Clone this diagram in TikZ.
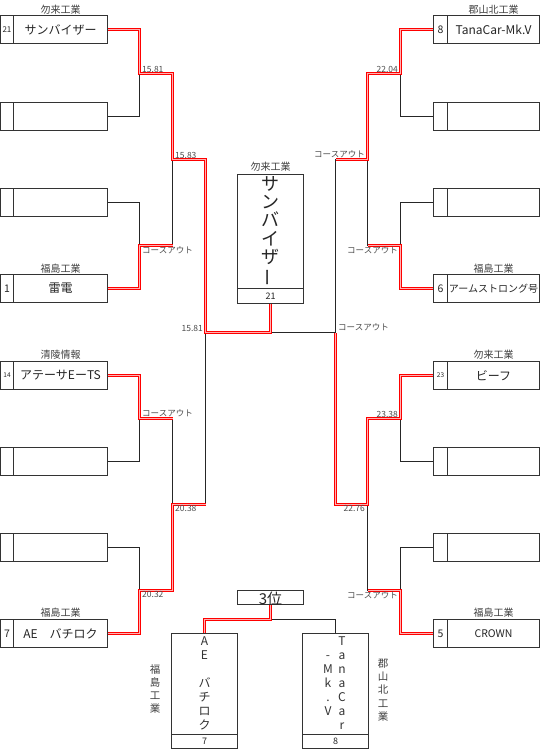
\documentclass[tikz,border=0pt]{standalone}
\usepackage{fontspec}
\setmainfont{Noto Sans CJK JP}
\usepackage{graphicx}
\tikzset{
  box/.style={draw=black!80, line width=1pt, inner sep=0pt, text=black!85},
  namecell/.style={box, minimum width=94pt, minimum height=28pt, font=\fontsize{12}{14}\selectfont},
  rnamecell/.style={box, minimum width=92pt, minimum height=28pt, font=\fontsize{12}{14}\selectfont},
  numcell/.style={box, minimum height=28pt, font=\fontsize{10.5}{12}\selectfont},
  school/.style={font=\fontsize{10}{12}\selectfont, text=black!75, inner sep=0pt},
  score/.style={font=\fontsize{8.5}{9}\selectfont, text=black!70, inner xsep=2.5pt, inner ysep=1pt},
  vtext/.style={align=center, inner sep=0pt, text=black!80},
  bk/.style={draw=black!85, line width=1pt},
  win/.style={draw=red, line width=1.1pt, double=red!30, double distance=0.9pt},
}
\begin{document}
\begin{tikzpicture}[x=1pt,y=-1pt]
\useasboundingbox (0,0) rectangle (540,749);
\fill[white] (0,0) rectangle (540,749);

% ---------- left boxes ----------
\node[namecell] (L1) at (60.5,29.5) {サンバイザー};
\node[numcell, minimum width=13pt] (L1n) at (7,29.5) {\fontsize{8}{9}\selectfont 21};
\node[school] (L1s) at (60.5,10) {勿来工業};
\node[namecell] (L2) at (60.5,116.5) {};
\node[numcell, minimum width=13pt] (L2n) at (7,116.5) {};
\node[namecell] (L3) at (60.5,202.5) {};
\node[numcell, minimum width=13pt] (L3n) at (7,202.5) {};
\node[namecell] (L4) at (60.5,288.5) {雷電};
\node[numcell, minimum width=13pt] (L4n) at (7,288.5) {1};
\node[school] (L4s) at (60.5,268.5) {福島工業};
\node[namecell] (L5) at (60.5,375.5) {アテーサEーTS};
\node[numcell, minimum width=13pt] (L5n) at (7,375.5) {\fontsize{6.5}{7}\selectfont 14};
\node[school] (L5s) at (60.5,355) {清陵情報};
\node[namecell] (L6) at (60.5,461.5) {};
\node[numcell, minimum width=13pt] (L6n) at (7,461.5) {};
\node[namecell] (L7) at (60.5,547.5) {};
\node[numcell, minimum width=13pt] (L7n) at (7,547.5) {};
\node[namecell] (L8) at (60.5,633.5) {AE　バチロク};
\node[numcell, minimum width=13pt] (L8n) at (7,633.5) {7};
\node[school] (L8s) at (60.5,613) {福島工業};

% ---------- right boxes ----------
\node[rnamecell] (R1) at (493.5,29.5) {TanaCar-Mk.V};
\node[numcell, minimum width=14pt] (R1n) at (440.5,29.5) {8};
\node[school] (R1s) at (493.5,10) {郡山北工業};
\node[rnamecell] (R2) at (493.5,116.5) {};
\node[numcell, minimum width=14pt] (R2n) at (440.5,116.5) {};
\node[rnamecell] (R3) at (493.5,202.5) {};
\node[numcell, minimum width=14pt] (R3n) at (440.5,202.5) {};
\node[rnamecell] (R4) at (493.5,288.5) {\fontsize{10}{12}\selectfont アームストロング号};
\node[numcell, minimum width=14pt] (R4n) at (440.5,288.5) {6};
\node[school] (R4s) at (493.5,268.5) {福島工業};
\node[rnamecell] (R5) at (493.5,375.5) {ビーフ};
\node[numcell, minimum width=14pt] (R5n) at (440.5,375.5) {\fontsize{6.5}{7}\selectfont 23};
\node[school] (R5s) at (493.5,355) {勿来工業};
\node[rnamecell] (R6) at (493.5,461.5) {};
\node[numcell, minimum width=14pt] (R6n) at (440.5,461.5) {};
\node[rnamecell] (R7) at (493.5,547.5) {};
\node[numcell, minimum width=14pt] (R7n) at (440.5,547.5) {};
\node[rnamecell] (R8) at (493.5,633.5) {\fontsize{10.5}{12}\selectfont CROWN};
\node[numcell, minimum width=14pt] (R8n) at (440.5,633.5) {5};
\node[school] (R8s) at (493.5,613) {福島工業};

% ---------- champion ----------
\node[box, minimum width=66pt, minimum height=114pt, align=center,
      font=\fontsize{18}{18.2}\selectfont] (champ) at (270.5,231.5)
      {サ\\ン\\バ\\イ\\ザ\\\rotatebox[origin=c]{90}{ー}};
\node[box, minimum width=66pt, minimum height=15pt, font=\fontsize{9}{10}\selectfont] (champn) at (270.5,296) {21};
\node[school] (champs) at (270.5,167) {勿来工業};

% ---------- junction points ----------
\coordinate (la1) at (139.5,73.5);
\coordinate (la2) at (139.5,245.5);
\coordinate (la3) at (139.5,418.5);
\coordinate (la4) at (139.5,590.5);
\coordinate (lb1) at (172.5,159.5);
\coordinate (lb2) at (172.5,504.5);
\coordinate (lc) at (205.5,332.5);
\coordinate (ra1) at (400.5,73.5);
\coordinate (ra2) at (400.5,245.5);
\coordinate (ra3) at (400.5,418.5);
\coordinate (ra4) at (400.5,590.5);
\coordinate (rb1) at (367.5,159.5);
\coordinate (rb2) at (367.5,504.5);
\coordinate (rc) at (335.5,332.5);

% ---------- black bracket ----------
\draw[bk] (L1.east) -| (la1) |- (L2.east);
\draw[bk] (L3.east) -| (la2) |- (L4.east);
\draw[bk] (L5.east) -| (la3) |- (L6.east);
\draw[bk] (L7.east) -| (la4) |- (L8.east);
\draw[bk] (la1) -| (lb1) |- (la2);
\draw[bk] (la3) -| (lb2) |- (la4);
\draw[bk] (lb1) -| (lc) |- (lb2);
\draw[bk] (R1n.west) -| (ra1) |- (R2n.west);
\draw[bk] (R3n.west) -| (ra2) |- (R4n.west);
\draw[bk] (R5n.west) -| (ra3) |- (R6n.west);
\draw[bk] (R7n.west) -| (ra4) |- (R8n.west);
\draw[bk] (ra1) -| (rb1) |- (ra2);
\draw[bk] (ra3) -| (rb2) |- (ra4);
\draw[bk] (rb1) -| (rc) |- (rb2);
\draw[bk] (lc) -- (rc);
\draw[bk] (champn.south) -- (champn.south |- lc);

% ---------- winners (red) ----------
\draw[win] (L1.east) -| (la1) -| (lb1) -| (lc) -| (champn.south);
\draw[win] (L4.east) -| (la2) -- (la2 -| lb1);
\draw[win] (L5.east) -| (la3) -- (la3 -| lb2);
\draw[win] (L8.east) -| (la4) -| (lb2) -- (lb2 -| lc);
\draw[win] (R1n.west) -| (ra1) -| (rb1) -- (rb1 -| rc);
\draw[win] (R4n.west) -| (ra2) -- (ra2 -| rb1);
\draw[win] (R5n.west) -| (ra3) -| (rb2) -| (rc);
\draw[win] (R8n.west) -| (ra4) -- (ra4 -| rb2);

% ---------- scores ----------
\node[score, anchor=south west] (s1) at (la1) {15.81};
\node[score, anchor=south west] (s2) at (lb1) {15.83};
\node[score, anchor=north west] (s3) at (la2) {コースアウト};
\node[score, anchor=south east] (s4) at (lc) {15.81};
\node[score, anchor=south west] (s5) at (la3) {コースアウト};
\node[score, anchor=north west] (s6) at (lb2) {20.38};
\node[score, anchor=north west] (s7) at (la4) {20.32};
\node[score, anchor=south east] (s8) at (ra1) {22.04};
\node[score, anchor=south east] (s9) at (rb1) {コースアウト};
\node[score, anchor=north east] (s10) at (ra2) {コースアウト};
\node[score, anchor=south west] (s11) at (rc) {コースアウト};
\node[score, anchor=south east] (s12) at (ra3) {23.38};
\node[score, anchor=north east] (s13) at (rb2) {22.76};
\node[score, anchor=north east] (s14) at (ra4) {コースアウト};

% ---------- third place ----------
\node[box, minimum width=66pt, minimum height=14pt, text height=13.5pt, text depth=0.5pt,
      font=\fontsize{15}{16}\selectfont] (third) at (270.5,597.5) {3位};
\node[box, minimum width=66pt, minimum height=101pt] (B1) at (204.5,684) {};
\node[box, minimum width=66pt, minimum height=14pt, font=\fontsize{9}{10}\selectfont] (B1n) at (204.5,741.5) {7};
\node[box, minimum width=66pt, minimum height=101pt] (B2) at (335.5,684) {};
\node[box, minimum width=66pt, minimum height=14pt, font=\fontsize{9}{10}\selectfont] (B2n) at (335.5,741.5) {8};
\node[vtext, font=\fontsize{12}{14}\selectfont] (B1t) at (204.5,684)
  {\vphantom{Tq}A\\E\\~\\バ\\チ\\ロ\\ク\vphantom{Tq}};
\node[vtext, font=\fontsize{12}{14}\selectfont] (B2t) at (342,684)
  {\vphantom{Tq}T\\a\\n\\a\\C\\a\\r\vphantom{Tq}};
\node[vtext, font=\fontsize{12}{14}\selectfont] (B2u) at (328,684)
  {\vphantom{Tq}-\\M\\k\\.\\V\vphantom{Tq}};
\node[vtext, font=\fontsize{10.5}{13}\selectfont, text=black!75] (B1s) at (155,689) {福\\島\\工\\業};
\node[vtext, font=\fontsize{10.5}{13.3}\selectfont, text=black!75] (B2s) at (383,690) {郡\\山\\北\\工\\業};

\coordinate (tj) at (270.5,619.5);
\draw[bk] (third.south) -- (tj) -| (B2.north);
\draw[win] (third.south) -- (tj) -| (B1.north);
\end{tikzpicture}
\end{document}
